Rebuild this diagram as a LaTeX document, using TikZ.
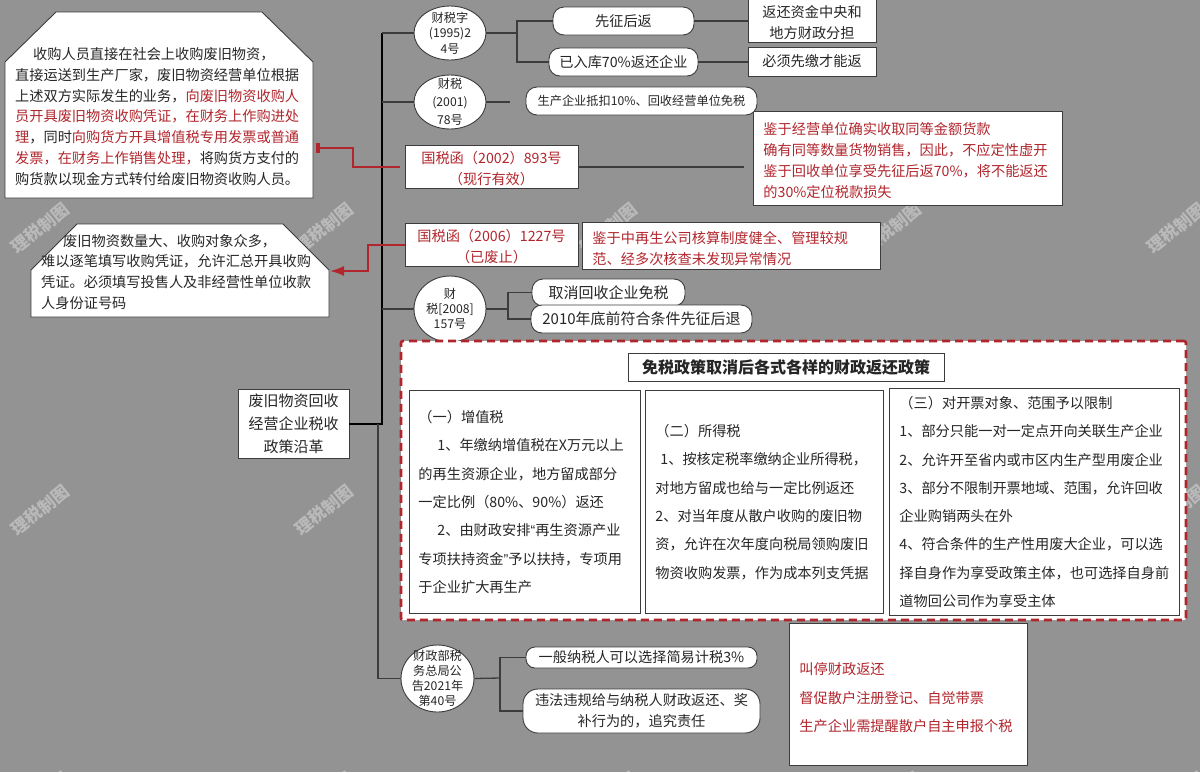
\documentclass[tikz,border=0pt]{standalone}
\usepackage{fontspec}
\setmainfont{Noto Sans CJK SC}
\newfontfamily\quotefont{Liberation Sans}
\usetikzlibrary{arrows.meta,shapes.geometric}
\definecolor{pagegray}{HTML}{939393}
\definecolor{inkdark}{HTML}{262626}
\definecolor{edgedark}{HTML}{3C3C3C}
\definecolor{taxred}{HTML}{B1262D}
\tikzset{
	plainbox/.style={draw=edgedark,fill=white,line width=.9pt,text=inkdark,inner sep=0pt,align=center,font=\fontsize{14.2}{21}\selectfont},
	redbox/.style={plainbox,text=taxred},
	pill/.style={plainbox,rounded corners=11pt},
	seal/.style={plainbox,shape=ellipse,inner sep=-9pt,font=\fontsize{12.2}{15.4}\selectfont},
	notetext/.style={inner sep=0pt,align=left,text=inkdark,font=\fontsize{14.2}{20.8}\selectfont},
	listbox/.style={plainbox,anchor=north west,align=left,inner xsep=10pt,font=\fontsize{14.2}{28.3}\selectfont},
	branch/.style={draw=edgedark,line width=1.3pt},
	trunk/.style={draw=black,line width=1.8pt},
	redline/.style={draw=taxred,line width=2pt},
	notebox/.style={draw=edgedark,fill=white,line width=.9pt},
	watermark/.style={inner sep=0pt,rotate=39,text=white,text opacity=.36,font=\fontsize{17}{17}\selectfont\bfseries},
}
\begin{document}
\begin{tikzpicture}[x=1pt,y=-1pt]
\useasboundingbox (0,0) rectangle (1200,772);
\fill[pagegray] (0,0) rectangle (1200,772);
\foreach \wx in {40,324,608,892,1176}
	\foreach \wy in {228,510,797}
		\node [watermark] (mark\wx\wy) at (\wx,\wy) {理税制图};
\draw[notebox] (56,12) -- (262,12) -- (313,62) -- (313,198) -- (5,198) -- (5,62) -- cycle;
\draw[notebox] (77,224) -- (283,224) -- (329,270) -- (329,317) -- (31,317) -- (31,270) -- cycle;
\path
	(15,116.5) node [notetext,anchor=west,text width=290pt] (purchasenote) {\hspace*{18pt}收购人员直接在社会上收购废旧物资，\\直接运送到生产厂家，废旧物资经营单位根据\\上述双方实际发生的业务，{\color{taxred}向废旧物资收购人}\\{\color{taxred}员开具废旧物资收购凭证，在财务上作购进处}\\{\color{taxred}理}，同时{\color{taxred}向购货方开具增值税专用发票或普通}\\{\color{taxred}发票，在财务上作销售处理，}将购货方支付的\\购货款以现金方式转付给废旧物资收购人员。}
	(41,272) node [notetext,anchor=west,text width=280pt] (summarynote) {\hspace*{22pt}废旧物资数量大、收购对象众多，\\难以逐笔填写收购凭证，允许汇总开具收购\\凭证。必须填写投售人及非经营性单位收款\\人身份证号码}
	(293.5,424) node [plainbox,minimum width=111pt,minimum height=69pt,font=\fontsize{15}{23}\selectfont] (rootbox) {废旧物资回收\\经营企业税收\\政策沿革}
	(450,33) node [seal,minimum width=72pt,minimum height=54pt] (caishui95) {财税字\\(1995)2\\4号}
	(450,102) node [seal,minimum width=72pt,minimum height=54pt,font=\fontsize{12.2}{18}\selectfont] (caishui01) {财税\\(2001)\\78号}
	(491.5,167) node [redbox,minimum width=173pt,minimum height=43pt] (guoshui02) {\rule{0pt}{15pt}国税函（2002）893号\\（现行有效）}
	(491.5,245) node [redbox,minimum width=173pt,minimum height=43pt] (guoshui06) {\rule{0pt}{15pt}国税函（2006）1227号\\（已废止）}
	(450,309) node [seal,minimum width=72pt,minimum height=66pt,font=\fontsize{12.2}{15}\selectfont] (caishui08) {财\\税[2008]\\157号}
	(437.5,678.5) node [seal,minimum width=73pt,minimum height=67pt,font=\fontsize{12.2}{15}\selectfont] (caishui21) {财政部税\\务总局公\\告2021年\\第40号}
	(623.5,21) node [pill,minimum width=141pt,minimum height=28pt] (xianzheng) {先征后返}
	(623.5,62) node [pill,minimum width=149pt,minimum height=28pt] (yiruku) {已入库70\%返还企业}
	(812,19) node [plainbox,minimum width=128pt,minimum height=46pt] (fanhuan) {\rule{0pt}{19pt}返还资金中央和\\地方财政分担}
	(812,61.5) node [plainbox,minimum width=128pt,minimum height=29pt] (xianjiao) {必须先缴才能返}
	(753,111) node [redbox,anchor=north west,minimum width=309pt,minimum height=94pt,align=left,text width=289pt,inner xsep=10pt] (jianyu) {\rule{0pt}{16pt}鉴于经营单位确实收取同等金额货款\\确有同等数量货物销售，因此，不应定性虚开\\鉴于回收单位享受先征后返70\%，将不能返还\\的30\%定位税款损失}
	(641.5,101) node [pill,minimum width=231pt,minimum height=28pt,font=\fontsize{12.2}{15}\selectfont] (shengchan) {生产企业抵扣10\%、回收经营单位免税}
	(582,222) node [redbox,anchor=north west,minimum width=298pt,minimum height=47pt,align=left,text width=278pt,inner xsep=10pt] (zhongzaisheng) {\rule{0pt}{16.5pt}鉴于中再生公司核算制度健全、管理较规\\范、经多次核查未发现异常情况}
	(608.5,292.5) node [pill,minimum width=153pt,minimum height=27pt,font=\fontsize{15}{20}\selectfont] (quxiao) {取消回收企业免税}
	(641.5,319) node [pill,minimum width=221pt,minimum height=28pt,font=\fontsize{15}{20}\selectfont] (xianzheng10) {2010年底前符合条件先征后退}
	(793.5,480.5) node [draw=taxred,fill=white,line width=2.6pt,dash pattern=on 8pt off 5pt,rounded corners=2pt,inner sep=0pt,minimum width=785pt,minimum height=279pt] (returnframe) {}
	(786,367) node [plainbox,minimum width=316pt,minimum height=28pt,font=\fontsize{16}{20}\selectfont\bfseries] (returntitle) {免税政策取消后各式各样的财政返还政策}
	(409,390) node [listbox,minimum width=231pt,minimum height=223pt,text width=213pt,inner xsep=9pt] (vatbox) {（一）增值税\\\hspace*{19pt}1、年缴纳增值税在X万元以上\\的再生资源企业，地方留成部分\\一定比例（80\%、90\%）返还\\\hspace*{19pt}2、由财政安排{\quotefont“}再生资源产业\\专项扶持资金{\quotefont”}予以扶持，专项用\\于企业扩大再生产}
	(645,390) node [listbox,minimum width=238pt,minimum height=223pt,text width=218pt] (incomebox) {（二）所得税\\\hspace*{5pt}1、按核定税率缴纳企业所得税，\\对地方留成也给与一定比例返还\\2、对当年度从散户收购的废旧物\\资，允许在次年度向税局领购废旧\\物资收购发票，作为成本列支凭据}
	(889,388) node [listbox,minimum width=290pt,minimum height=227pt,text width=270pt] (scopebox) {（三）对开票对象、范围予以限制\\1、部分只能一对一定点开向关联生产企业\\2、允许开至省内或市区内生产型用废企业\\3、部分不限制开票地域、范围，允许回收\\企业购销两头在外\\4、符合条件的生产性用废大企业，可以选\\择自身作为享受政策主体，也可选择自身前\\道物回公司作为享受主体}
	(641.5,657.5) node [pill,minimum width=231pt,minimum height=21pt,rounded corners=9pt] (jianyi) {一般纳税人可以选择简易计税3\%}
	(641.5,711) node [pill,minimum width=237pt,minimum height=44pt,rounded corners=15pt] (zhuize) {违法违规给与纳税人财政返还、奖\\补行为的，追究责任}
	(789,623) node [redbox,anchor=north west,minimum width=238pt,minimum height=142pt,align=left,text width=218pt,inner xsep=10pt,font=\fontsize{14.2}{28.5}\selectfont] (jiaoting) {\rule{0pt}{18.5pt}叫停财政返还\\督促散户注册登记、自觉带票\\生产企业需提醒散户自主申报个税};
\coordinate (trunktop) at (382,33);
\coordinate (trunklow) at (378,424);
\coordinate (forkA) at (517,33);
\coordinate (forkB) at (508,309);
\coordinate (forkC) at (500,678);
\coordinate (freeA) at (510,102);
\coordinate (freeB) at (744,167);
\coordinate (bendA) at (353,167);
\coordinate (endA) at (400,167);
\coordinate (portA) at (316,148);
\coordinate (bendB) at (368,245);
\coordinate (portB) at (330,271);
\draw[trunk] (rootbox.east) -| (trunktop);
\draw[branch] (trunktop) -- (caishui95.west);
\draw[branch] (trunktop |- caishui01.west) -- (caishui01.west);
\draw[branch] (trunktop |- caishui08.west) -- (caishui08.west);
\draw[branch] (trunklow) |- (caishui21.west);
\draw[branch] (caishui95.east) -- (forkA);
\draw[branch] (forkA) |- (xianzheng.west);
\draw[branch] (forkA) |- (yiruku.west);
\draw[branch] (xianzheng.east) -- (fanhuan.west |- xianzheng.east);
\draw[branch] (yiruku.east) -- (xianjiao.west |- yiruku.east);
\draw[branch] (caishui01.east) -- (freeA);
\draw[branch] (guoshui02.east) -- (freeB);
\draw[branch] (caishui08.east) -- (forkB);
\draw[branch] (forkB) |- (quxiao.west);
\draw[branch] (forkB) |- (xianzheng10.west);
\draw[branch] (caishui21.east) -- (forkC);
\draw[branch] (forkC) |- (jianyi.west);
\draw[branch] (forkC) |- (zhuize.west);
\draw[redline,{Square[length=4pt,width=10pt]}-] (portA) -| (bendA) -- (endA);
\draw[redline,{Latex[length=14pt,width=10pt]}-] (portB) -| (bendB) -- (guoshui06.west);
\end{tikzpicture}
\end{document}
